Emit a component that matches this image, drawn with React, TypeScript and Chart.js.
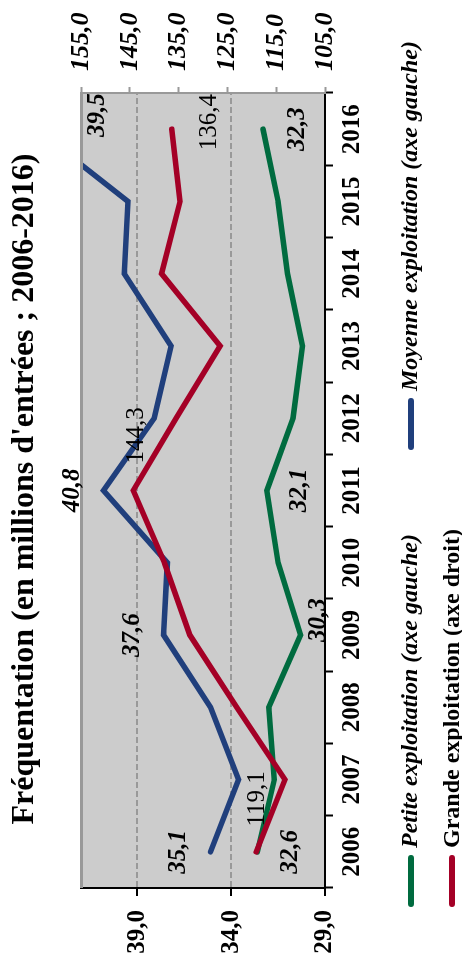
import React, { useEffect, useRef } from 'react';
import { Chart, registerables } from 'chart.js';

Chart.register(...registerables);

// ---------- data ----------
const years = ['2006', '2007', '2008', '2009', '2010', '2011', '2012', '2013', '2014', '2015', '2016'];
const petite = [32.6, 31.7, 32.0, 30.3, 31.5, 32.1, 30.7, 30.2, 31.0, 31.5, 32.3];
const moyenne = [35.1, 33.6, 35.1, 37.6, 37.4, 40.8, 38.1, 37.2, 39.7, 39.5, 44.4];
const grande = [119.1, 113.2, 123.1, 132.7, 137.9, 144.3, 135.5, 126.5, 138.5, 134.7, 136.4];
const leftTicks = [29, 34, 39];
const rightTicks = [105, 115, 125, 135, 145, 155];
const titleText = "Fréquentation (en millions d'entrées ; 2006-2016)";
const seriesNames = {
  petite: 'Petite exploitation (axe gauche)',
  moyenne: 'Moyenne exploitation (axe gauche)',
  grande: 'Grande exploitation (axe droit)',
};
// data labels: [series, index, text]
const labelSeries = ['petite', 'petite', 'petite', 'petite', 'moyenne', 'moyenne', 'moyenne', 'moyenne', 'grande', 'grande', 'grande'];
const labelIndex = [0, 3, 5, 10, 0, 3, 5, 10, 0, 5, 10];
const labelText = ['32,6', '30,3', '32,1', '32,3', '35,1', '37,6', '40,8', '39,5', '119,1', '144,3', '136,4'];

// ---------- styles ----------
const FONT = "'Liberation Serif', 'Times New Roman', serif";
const COLORS: Record<string, string> = { petite: '#006B3F', moyenne: '#203F7C', grande: '#A40026' };
const ITALIC: Record<string, boolean> = { petite: true, moyenne: true, grande: false };
// label offsets (pixels, in the unrotated chart)
const labelOffsets: [number, number][] = [
  [0, 33], [15, 18], [0, 33], [0, 34],
  [0, -32], [0, -31], [0, -31], [14, 17],
  [53, 1], [55, 3], [7, 38],
];

const W = 978;
const H = 462;

const fmt = (v: number) => v.toFixed(1).replace('.', ',');

export default function App() {
  const ref = useRef<HTMLCanvasElement | null>(null);

  useEffect(() => {
    const canvas = ref.current;
    if (!canvas) return;

    const order = ['grande', 'petite', 'moyenne'];
    const dataMap: Record<string, number[]> = { petite, moyenne, grande };

    const plotBackground = {
      id: 'plotBackground',
      beforeDraw(chart: any) {
        const { ctx, chartArea: a } = chart;
        ctx.save();
        ctx.fillStyle = '#CCCCCC';
        ctx.fillRect(a.left, a.top, a.right - a.left, a.bottom - a.top);
        ctx.restore();
      },
      afterDatasetsDraw(chart: any) {
        const { ctx, chartArea: a } = chart;
        ctx.save();
        ctx.strokeStyle = '#999999';
        ctx.lineWidth = 3;
        ctx.beginPath();
        ctx.moveTo(a.left, a.top + 0.5);
        ctx.lineTo(a.right, a.top + 0.5);
        ctx.stroke();
        ctx.restore();
      },
    };

    const dataLabels = {
      id: 'dataLabels',
      afterDatasetsDraw(chart: any) {
        const { ctx, chartArea: a } = chart;
        ctx.save();
        ctx.fillStyle = '#000';
        ctx.textAlign = 'center';
        ctx.textBaseline = 'middle';
        labelText.forEach((text, k) => {
          const s = labelSeries[k];
          const meta = chart.getDatasetMeta(order.indexOf(s));
          const pt = meta.data[labelIndex[k]];
          const x = pt.x;
          const y = Math.min(Math.max(pt.y, a.top), a.bottom);
          const [dx, dy] = labelOffsets[k];
          ctx.font = `${ITALIC[s] ? 'italic bold ' : ''}25px ${FONT}`;
          ctx.fillText(text, x + dx, y + dy);
        });
        ctx.restore();
      },
    };

    const customLegend = {
      id: 'customLegend',
      afterDraw(chart: any) {
        const { ctx, chartArea: a } = chart;
        const items = [
          { s: 'petite', x: a.left - 19, row: 0 },
          { s: 'moyenne', x: a.left + 438, row: 0 },
          { s: 'grande', x: a.left - 19, row: 1 },
        ];
        ctx.save();
        items.forEach((it) => {
          const my = a.bottom + (it.row === 0 ? 86 : 127);
          const ty = a.bottom + (it.row === 0 ? 91.5 : 133.5);
          ctx.strokeStyle = COLORS[it.s];
          ctx.lineWidth = 6;
          ctx.lineCap = 'round';
          ctx.beginPath();
          ctx.moveTo(it.x + 3, my);
          ctx.lineTo(it.x + 49, my);
          ctx.stroke();
          ctx.fillStyle = '#000';
          ctx.textAlign = 'left';
          ctx.textBaseline = 'alphabetic';
          ctx.font = `${ITALIC[it.s] ? 'italic ' : ''}bold 24px ${FONT}`;
          ctx.fillText(seriesNames[it.s as keyof typeof seriesNames], it.x + 59, ty);
        });
        ctx.restore();
      },
    };

    const chart = new Chart(canvas, {
      type: 'line',
      data: {
        labels: years,
        datasets: order.map((s) => ({
          label: seriesNames[s as keyof typeof seriesNames],
          data: dataMap[s],
          yAxisID: s === 'grande' ? 'y2' : 'y',
          borderColor: COLORS[s],
          backgroundColor: COLORS[s],
          borderWidth: 5.5,
          borderCapStyle: 'round',
          borderJoinStyle: 'miter',
          pointRadius: 0,
          tension: 0,
          fill: false,
          clip: 0,
        })),
      },
      options: {
        responsive: false,
        animation: false,
        events: [],
        layout: { padding: { top: 0, left: 0, right: 0, bottom: 80 } },
        plugins: {
          legend: { display: false },
          tooltip: { enabled: false },
          title: {
            display: true,
            text: titleText,
            color: '#000',
            font: { family: FONT, size: 32, weight: 'bold' },
            padding: { top: 6, bottom: 36.6 },
          },
        },
        scales: {
          x: {
            type: 'category',
            offset: true,
            grid: {
              offset: true,
              drawOnChartArea: false,
              drawTicks: true,
              tickLength: 8,
              tickColor: '#000',
              tickWidth: 2,
              color: '#000',
            },
            border: { display: true, color: '#000', width: 2 },
            ticks: {
              color: '#000',
              font: { family: FONT, size: 25, weight: 'bold' },
              padding: 5,
              maxRotation: 0,
              autoSkip: false,
            },
            afterFit: (s: any) => {
              s.height = 57;
            },
          },
          y: {
            type: 'linear',
            position: 'left',
            min: 29,
            max: 42,
            afterBuildTicks: (s: any) => {
              s.ticks = leftTicks.map((v) => ({ value: v }));
            },
            grid: {
              color: (c: any) => (c.tick && c.tick.value === leftTicks[0] ? 'rgba(0,0,0,0)' : '#999999'),
              lineWidth: 2,
              drawTicks: true,
              tickLength: 8,
              tickColor: '#000',
              tickWidth: 2,
            },
            border: { display: true, color: '#000', width: 2, dash: [6, 3] },
            ticks: {
              color: '#000',
              font: { family: FONT, size: 25, weight: 'bold' },
              padding: 14,
              callback: (v: any) => fmt(Number(v)),
            },
            afterFit: (s: any) => {
              s.width = 90;
            },
          },
          y2: {
            type: 'linear',
            position: 'right',
            min: 105,
            max: 155,
            afterBuildTicks: (s: any) => {
              s.ticks = rightTicks.map((v) => ({ value: v }));
            },
            grid: {
              drawOnChartArea: false,
              drawTicks: true,
              tickLength: 6,
              color: '#999999',
              tickColor: '#999999',
              tickWidth: 2,
            },
            border: { display: true, color: '#999999', width: 2 },
            ticks: {
              color: '#000',
              font: { family: FONT, size: 26, weight: 'bold', style: 'italic' },
              padding: 16,
              callback: (v: any) => fmt(Number(v)),
            },
            afterFit: (s: any) => {
              s.width = 93;
            },
          },
        },
      },
      plugins: [plotBackground, dataLabels, customLegend],
    } as any);

    return () => chart.destroy();
  }, []);

  return (
    <div
      style={{
        position: 'fixed',
        left: 0,
        top: W,
        width: W,
        height: H,
        transformOrigin: '0 0',
        transform: 'rotate(-90deg)',
        background: '#fff',
      }}
    >
      <canvas ref={ref} width={W} height={H} style={{ display: 'block', width: W, height: H }} />
    </div>
  );
}
